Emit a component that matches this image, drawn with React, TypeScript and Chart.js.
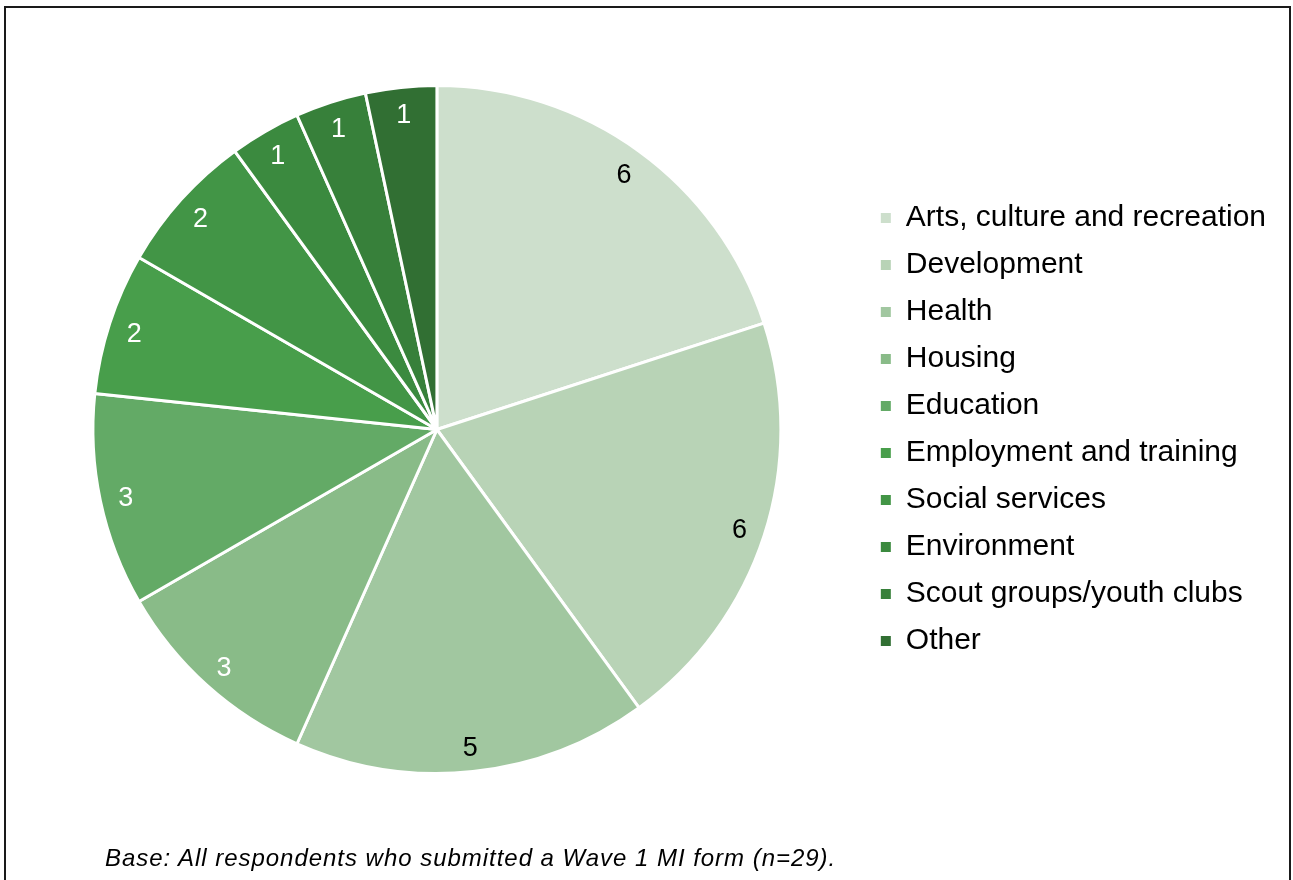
import React, { useEffect, useRef } from "react";
import { Chart, registerables } from "chart.js";

Chart.register(...registerables);

const categories = [
  "Arts, culture and recreation",
  "Development",
  "Health",
  "Housing",
  "Education",
  "Employment and training",
  "Social services",
  "Environment",
  "Scout groups/youth clubs",
  "Other",
];
const counts = [6, 6, 5, 3, 3, 2, 2, 1, 1, 1];
const sliceColors = [
  "#cddfcc",
  "#b8d3b6",
  "#a1c7a0",
  "#89bb88",
  "#63aa66",
  "#489e4b",
  "#429546",
  "#3b8a3f",
  "#37803a",
  "#316f33",
];
const labelColors = ["#000000", "#000000", "#000000", "#ffffff", "#ffffff", "#ffffff", "#ffffff", "#ffffff", "#ffffff", "#ffffff"];
const footnote = "Base: All respondents who submitted a Wave 1 MI form (n=29).";

const FONT = "'Liberation Sans', Arial, sans-serif";

const valueLabels = {
  id: "valueLabels",
  afterDatasetsDraw(chart: any) {
    const { ctx } = chart;
    const meta = chart.getDatasetMeta(0);
    ctx.save();
    ctx.font = `27px ${FONT}`;
    ctx.textAlign = "center";
    ctx.textBaseline = "middle";
    meta.data.forEach((arc: any, i: number) => {
      const p = arc.getProps(["x", "y", "startAngle", "endAngle", "outerRadius"], true);
      const mid = (p.startAngle + p.endAngle) / 2;
      const r = p.outerRadius * 0.925;
      ctx.fillStyle = labelColors[i];
      ctx.fillText(String(counts[i]), p.x + Math.cos(mid) * r, p.y + Math.sin(mid) * r + 3);
    });
    ctx.restore();
  },
};

export default function App() {
  const ref = useRef<HTMLCanvasElement>(null);
  useEffect(() => {
    const chart = new Chart(ref.current!, {
      type: "pie",
      data: {
        labels: categories,
        datasets: [
          {
            data: counts,
            backgroundColor: sliceColors,
            borderColor: "#ffffff",
            borderWidth: 3,
            radius: 344,
          } as any,
        ],
      },
      options: {
        animation: false,
        responsive: false,
        maintainAspectRatio: false,
        layout: { padding: { left: 10, right: 17, top: 0, bottom: 21 } },
        plugins: {
          tooltip: { enabled: false },
          legend: {
            position: "right",
            align: "center",
            labels: {
              boxWidth: 10,
              boxHeight: 10,
              padding: 17,
              color: "#000000",
              font: { family: FONT, size: 30 },
              generateLabels(chart: any) {
                const items = Chart.overrides.pie.plugins.legend.labels.generateLabels(chart);
                return items.map((it: any) => ({ ...it, lineWidth: 0, strokeStyle: it.fillStyle }));
              },
            },
          },
        },
      },
      plugins: [valueLabels],
    });
    return () => chart.destroy();
  }, []);
  return (
    <div style={{ position: "absolute", left: 0, top: 0, width: 1293, height: 880, overflow: "hidden", background: "#fff" }}>
      <div
        style={{
          position: "absolute",
          left: 4,
          top: 6,
          width: 1283,
          height: 900,
          border: "2px solid #1a1a1a",
        }}
      />
      <canvas ref={ref} width={1293} height={880} style={{ position: "absolute", left: 0, top: 0 }} />
      <div
        style={{
          position: "absolute",
          left: 105,
          top: 844,
          fontFamily: FONT,
          fontStyle: "italic",
          fontSize: 24,
          letterSpacing: "0.97px",
          color: "#000",
          whiteSpace: "nowrap",
        }}
      >
        {footnote}
      </div>
    </div>
  );
}
